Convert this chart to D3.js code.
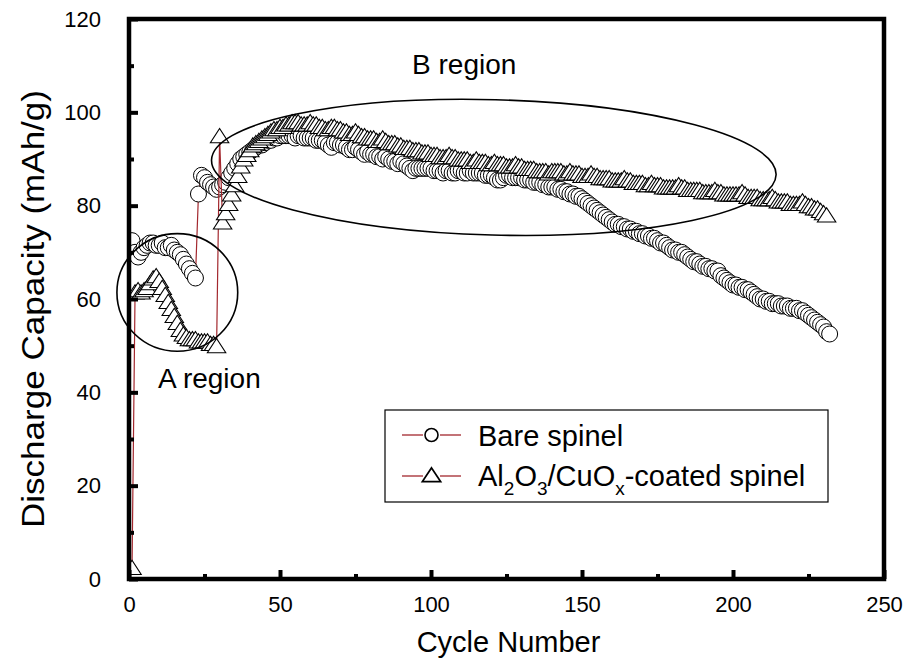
<!DOCTYPE html>
<html lang="en">
<head>
<meta charset="UTF-8">
<title>Discharge Capacity vs Cycle Number</title>
<script src="https://d3js.org/d3.v7.min.js"></script>
<style>
  body { margin: 0; background: #fff; }
  text { font-family: "Liberation Sans", Arial, sans-serif; fill: #000; }
</style>
</head>
<body>
<script>
// ---- data ----
var bareCapacity = [
  72.5, 70, 69, 70, 71, 71.5, 72, 72, 71.5, 71.5,
  72, 71, 71, 71.5, 70.5, 70, 69.5, 68.5, 67.5, 66.5,
  65.5, 64.5, 82.5, 86.5, 86, 85, 84.5, 84, 83.5, 84,
  84.5, 85, 86, 87, 88, 89, 90, 90.5, 91, 91.5,
  92, 92.5, 93, 93, 93.5, 94, 94, 94.5, 94.5, 95,
  95, 95, 95, 95, 94.5, 95, 95, 94.5, 94.5, 94.5,
  94.5, 94, 94, 94, 93.5, 93, 92.5, 93.5, 93.5, 93,
  93, 92.5, 92, 92, 92.5, 92, 91.5, 91, 91.5, 91,
  91, 90.5, 90.5, 90, 90.5, 90, 89.5, 89.5, 89, 89.5,
  89, 88.5, 88, 87.5, 88, 88, 88, 88, 88, 88,
  87.5, 87.5, 87.5, 87, 87.5, 87.5, 87, 87, 87.5, 87.5,
  87, 87, 87.5, 87, 87, 87, 87, 86.5, 86.5, 86.5,
  86, 85.5, 85.5, 86, 86.5, 86.5, 86, 86, 86, 86,
  85.5, 85.5, 85.5, 85, 85, 85, 84.5, 84.5, 84, 84,
  84, 83.5, 83.5, 83, 83, 82.5, 82.5, 82, 82, 81.5,
  81, 80.5, 80, 79.5, 79, 78.5, 78, 77.5, 77, 76.5,
  76, 76, 75.5, 75.5, 75, 75, 74.5, 74.5, 74, 74,
  73.5, 73.5, 73, 73, 72.5, 72, 72, 71.5, 71, 70.5,
  70.5, 70, 70, 69.5, 69, 68.5, 68, 68, 67.5, 67,
  67, 66.5, 66.5, 66, 66, 65, 64.5, 64, 63.5, 63,
  63, 62.5, 62.5, 62, 62, 61.5, 61, 60.5, 60, 60,
  59.5, 59.5, 59, 59, 59, 58.5, 58.5, 58.5, 58, 58,
  58, 57.5, 57.5, 57, 56.5, 56, 55.5, 55, 54.5, 54, 53, 52.5
];
var coatedCapacity = [
  2, 61, 61.5, 61, 61.5, 62, 63, 64, 64.5, 63.5,
  62, 60.5, 59, 57.5, 56, 54.5, 53, 52, 51.5, 51,
  51, 51, 50.5, 50.5, 50.5, 50.5, 50, 50, 49.5, 94.5,
  76, 78, 80, 82, 84, 86, 88, 89.5, 90.5, 91.5,
  92.5, 93, 93.5, 94, 94.5, 95, 95.5, 96, 96, 96.5,
  96.5, 97, 97, 97.5, 97.5, 97.5, 97, 97, 97, 97.5,
  97, 97, 96.5, 96.5, 96, 96, 96.5, 96.5, 96, 96,
  95.5, 95.5, 95, 95, 95.5, 95, 94.5, 94.5, 94, 94,
  94, 93.5, 93.5, 94, 93.5, 93, 93, 93, 92.5, 92.5,
  92, 92, 92, 91.5, 91.5, 91.5, 91, 91, 91, 90.5,
  90.5, 90.5, 90, 90, 90, 90.5, 90, 90, 89.5, 89.5,
  89.5, 89.5, 89, 89, 89.5, 89, 89, 89, 88.5, 88.5,
  89, 88.5, 88.5, 88.5, 88, 88, 88, 88.5, 88, 88,
  87.5, 87.5, 87.5, 87.5, 87, 87, 87, 87, 86.5, 87,
  87, 87, 87, 86.5, 86.5, 87, 86.5, 86.5, 86.5, 86,
  86, 86, 86.5, 86, 86, 85.5, 85.5, 85.5, 85.5, 85,
  85, 85, 85, 85.5, 85, 85, 84.5, 84.5, 84.5, 84.5,
  84, 84, 84.5, 84, 84, 84, 83.5, 83.5, 83.5, 83.5,
  83.5, 84, 83.5, 83.5, 83, 83, 83, 83, 83, 82.5,
  82.5, 82.5, 82.5, 83, 82.5, 82.5, 82, 82, 82, 82,
  82, 82, 82.5, 82, 81.5, 81.5, 81.5, 81.5, 81, 81,
  81, 81, 81.5, 81, 80.5, 80.5, 80.5, 80.5, 80, 80,
  80, 80, 80.5, 80, 79.5, 79.5, 79, 79, 78.5, 78, 77.5
];
var xTicks = [0, 50, 100, 150, 200, 250];
var xMinorTicks = [25, 75, 125, 175, 225];
var yTicks = [0, 20, 40, 60, 80, 100, 120];
var yMinorTicks = [10, 30, 50, 70, 90, 110];
var seriesNames = ['Bare spinel', 'coated'];

// ---- layout ----
var width = 905, height = 661;
var margin = {top: 19, right: 21, bottom: 82, left: 129};
var lineColor = '#a3282e';

var svg = d3.select('body').append('svg')
    .attr('width', width).attr('height', height);

var x = d3.scaleLinear().domain([0, 250]).range([margin.left, width - margin.right]);
var y = d3.scaleLinear().domain([0, 120]).range([height - margin.bottom, margin.top]);

function toPoints(values) {
    return values.map(function (v, i) { return {cycle: i + 1, cap: v}; });
}
var bare = toPoints(bareCapacity);
var coated = toPoints(coatedCapacity);

var line = d3.line()
    .x(function (d) { return x(d.cycle); })
    .y(function (d) { return y(d.cap); });

var triSym = d3.symbol().type(d3.symbolTriangle).size(118);

// clip to plot
svg.append('clipPath').attr('id', 'plot')
    .append('rect')
    .attr('x', margin.left).attr('y', margin.top)
    .attr('width', width - margin.left - margin.right)
    .attr('height', height - margin.top - margin.bottom);

var plot = svg.append('g').attr('clip-path', 'url(#plot)');

// bare spinel
plot.append('path').datum(bare)
    .attr('d', line)
    .attr('fill', 'none').attr('stroke', lineColor).attr('stroke-width', 1.2);
plot.append('g').selectAll('circle').data(bare).enter().append('circle')
    .attr('cx', function (d) { return x(d.cycle); })
    .attr('cy', function (d) { return y(d.cap); })
    .attr('r', 8)
    .attr('fill', '#fff').attr('stroke', '#000').attr('stroke-width', 1);

// coated spinel
plot.append('path').datum(coated)
    .attr('d', line)
    .attr('fill', 'none').attr('stroke', lineColor).attr('stroke-width', 1.2);
plot.append('g').selectAll('path.tri').data(coated).enter().append('path')
    .attr('class', 'tri')
    .attr('d', triSym)
    .attr('transform', function (d) { return 'translate(' + x(d.cycle) + ',' + y(d.cap) + ') scale(1.12,1)'; })
    .attr('fill', '#fff').attr('stroke', '#000').attr('stroke-width', 1);

// region ellipses
svg.append('ellipse')
    .attr('cx', x(16)).attr('cy', y(61.4))
    .attr('rx', x(20) - x(0)).attr('ry', y(0) - y(12.6))
    .attr('fill', 'none').attr('stroke', '#000').attr('stroke-width', 1.6);
svg.append('ellipse')
    .attr('cx', x(120.8)).attr('cy', y(88.2))
    .attr('rx', x(93.5) - x(0)).attr('ry', y(0) - y(14.5))
    .attr('transform', 'rotate(1.5,' + x(120.8) + ',' + y(88.2) + ')')
    .attr('fill', 'none').attr('stroke', '#000').attr('stroke-width', 1.6);

svg.append('text').attr('x', x(111)).attr('y', y(108.2))
    .attr('text-anchor', 'middle').style('font-size', '28px').text('B region');
svg.append('text').attr('x', x(9.6)).attr('y', y(41))
    .style('font-size', '28px').text('A region');

// frame
svg.append('rect')
    .attr('x', margin.left).attr('y', margin.top)
    .attr('width', width - margin.left - margin.right)
    .attr('height', height - margin.top - margin.bottom)
    .attr('fill', 'none').attr('stroke', '#000').attr('stroke-width', 4.5);

// axes
var xAxis = svg.append('g')
    .attr('transform', 'translate(0,' + (height - margin.bottom) + ')')
    .call(d3.axisBottom(x).tickValues(xTicks).tickSize(-9).tickPadding(17).tickFormat(d3.format('d')));
var xMinor = svg.append('g')
    .attr('transform', 'translate(0,' + (height - margin.bottom) + ')')
    .call(d3.axisBottom(x).tickValues(xMinorTicks).tickSize(-5).tickFormat(''));
var yAxis = svg.append('g')
    .attr('transform', 'translate(' + margin.left + ',0)')
    .call(d3.axisLeft(y).tickValues(yTicks).tickSize(-9).tickPadding(28).tickFormat(d3.format('d')));
var yMinor = svg.append('g')
    .attr('transform', 'translate(' + margin.left + ',0)')
    .call(d3.axisLeft(y).tickValues(yMinorTicks).tickSize(-5).tickFormat(''));

[xAxis, xMinor, yAxis, yMinor].forEach(function (g) {
    g.select('.domain').remove();
    g.selectAll('.tick line').attr('stroke', '#000').attr('stroke-width', 4);
    g.selectAll('.tick text')
        .style('font-family', '"Liberation Sans", Arial, sans-serif')
        .style('font-size', '22px').attr('fill', '#000');
});

// axis titles
svg.append('text')
    .attr('x', (margin.left + width - margin.right) / 2 + 2)
    .attr('y', 652)
    .attr('text-anchor', 'middle').style('font-size', '29px')
    .text('Cycle Number');
svg.append('text')
    .attr('transform', 'translate(44,' + 309 + ') rotate(-90)')
    .attr('text-anchor', 'middle').style('font-size', '31px')
    .attr('textLength', 438).attr('lengthAdjust', 'spacingAndGlyphs')
    .text('Discharge Capacity (mAh/g)');

// legend
var legend = svg.append('g').attr('transform', 'translate(385,410)');
legend.append('rect')
    .attr('width', 443).attr('height', 92)
    .attr('fill', '#fff').attr('stroke', '#000').attr('stroke-width', 1.2);

var rows = [{y: 25, sym: 'circle', label: seriesNames[0]}, {y: 66, sym: 'triangle'}];
rows.forEach(function (r) {
    var g = legend.append('g').attr('transform', 'translate(0,' + r.y + ')');
    g.append('line').attr('x1', 17).attr('x2', 38).attr('stroke', lineColor).attr('stroke-width', 1.3);
    g.append('line').attr('x1', 55).attr('x2', 76).attr('stroke', lineColor).attr('stroke-width', 1.3);
    if (r.sym === 'circle') {
        g.append('circle').attr('cx', 46.5).attr('r', 6.5)
            .attr('fill', '#fff').attr('stroke', '#000').attr('stroke-width', 1.6);
    } else {
        g.append('path').attr('d', d3.symbol().type(d3.symbolTriangle).size(110))
            .attr('transform', 'translate(46.5,1) scale(1.15,1)')
            .attr('fill', '#fff').attr('stroke', '#000').attr('stroke-width', 1.6);
    }
});
legend.append('text').attr('x', 93).attr('y', 36).style('font-size', '29px').text(seriesNames[0]);

var t2 = legend.append('text').attr('x', 93).attr('y', 76).style('font-size', '29px');
t2.append('tspan').text('Al');
t2.append('tspan').attr('dy', 9).style('font-size', '19px').text('2');
t2.append('tspan').attr('dy', -9).text('O');
t2.append('tspan').attr('dy', 9).style('font-size', '19px').text('3');
t2.append('tspan').attr('dy', -9).text('/CuO');
t2.append('tspan').attr('dy', 9).style('font-size', '19px').text('x');
t2.append('tspan').attr('dy', -9).text('-coated spinel');
</script>
</body>
</html>
